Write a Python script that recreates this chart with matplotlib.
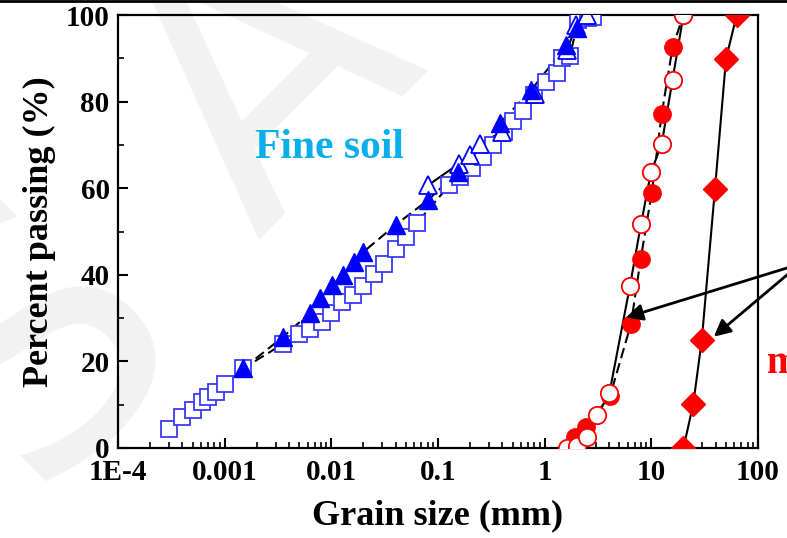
import matplotlib
matplotlib.use("Agg")
import matplotlib.pyplot as plt
from matplotlib.lines import Line2D
from matplotlib.ticker import FixedLocator, LogLocator, NullFormatter, FixedFormatter, MultipleLocator

# ---------------- data ----------------
# Fine soil
sq_x = [3.0e-4, 4.0e-4, 5.0e-4, 6.1e-4, 7.0e-4, 8.3e-4, 1.0e-3, 1.5e-3, 3.5e-3, 5.0e-3,
        6.3e-3, 8.2e-3, 0.010, 0.0125, 0.016, 0.020, 0.025, 0.031, 0.040, 0.050,
        0.063, 0.128, 0.161, 0.207, 0.262, 0.33, 0.42, 0.51, 0.63, 0.80,
        1.04, 1.30, 1.45, 1.72, 2.07, 2.57, 2.84]
sq_y = [4.5, 7.1, 8.8, 10.6, 11.8, 13.0, 14.7, 18.4, 24.0, 26.3,
        27.4, 29.2, 31.1, 33.8, 35.3, 37.4, 40.3, 42.4, 45.9, 48.7,
        51.9, 60.7, 62.5, 64.6, 67.3, 70.0, 73.0, 75.5, 77.8, 81.5,
        84.5, 86.5, 90.0, 90.5, 98.8, 99.3, 99.5]

ft_x = [1.5e-3, 3.5e-3, 6.3e-3, 7.9e-3, 0.0102, 0.0128, 0.0164, 0.020, 0.040, 0.081,
        0.155, 0.38, 0.75, 1.6, 2.0]
ft_y = [18.4, 25.6, 31.2, 34.6, 37.6, 40.0, 43.0, 45.3, 51.5, 57.3,
        63.8, 75.0, 82.7, 93.0, 97.0]

ot_x = [0.081, 0.158, 0.20, 0.246, 0.395, 0.81, 1.63, 1.98, 2.5]
ot_y = [60.7, 65.7, 67.7, 70.2, 73.0, 81.7, 92.0, 97.7, 100.0]

# Coarse soil
oc_x = [1.61, 2.02, 2.48, 3.12, 4.04, 6.3, 8.0, 9.93, 12.5, 15.8, 20.0]
oc_y = [0.0, 0.5, 2.5, 7.6, 12.6, 37.4, 51.7, 63.7, 70.2, 85.0, 100.0]

fc_x = [1.92, 2.44, 4.1, 6.44, 7.94, 10.1, 12.5, 15.8, 20.0]
fc_y = [2.5, 4.9, 12.0, 28.6, 43.6, 59.0, 77.1, 92.5, 100.0]

dm_x = [20.0, 24.7, 29.7, 39.5, 50.1, 63.1]
dm_y = [0.0, 10.1, 24.9, 59.8, 89.8, 100.0]

xtick_vals = [1e-4, 1e-3, 1e-2, 1e-1, 1, 10, 100]
xtick_labels = ["1E-4", "0.001", "0.01", "0.1", "1", "10", "100"]
ytick_vals = [0, 20, 40, 60, 80, 100]

# ---------------- style ----------------
plt.rcParams['font.family'] = ['Liberation Serif', 'DejaVu Serif']
plt.rcParams['font.weight'] = 'bold'

fig = plt.figure(figsize=(7.87, 5.38), dpi=100)
fig.patch.set_facecolor('white')

# faint watermark letters
wm_color = '#f2f2f2'
fig.text(273 / 787, 1 - 83 / 538, "A", rotation=45, fontsize=258,
         color=wm_color, ha='center', va='center', family='DejaVu Sans',
         weight='normal', zorder=0)
fig.text(40 / 787, 1 - 340 / 538, "S", rotation=45, fontsize=258,
         color=wm_color, ha='center', va='center', family='DejaVu Sans',
         weight='normal', zorder=0)
# top border line
fig.add_artist(Line2D([0, 1], [0.999, 0.999], transform=fig.transFigure,
                      color='black', lw=2))

ax = fig.add_axes([118 / 787, 1 - 448 / 538, 640 / 787, 433 / 538])
ax.set_zorder(1)
ax.patch.set_alpha(0)

blue_sq = '#3a3aff'
blue = '#0000ff'
red = '#ff0000'
dash = (5, 2.5)

# lines
ax.plot(sq_x, sq_y, color='black', lw=1.5, dashes=dash, zorder=2)
ax.plot(ft_x, ft_y, color='black', lw=1.5, dashes=dash, zorder=2)
ax.plot(ot_x, ot_y, color='black', lw=1.5, zorder=2)
ax.plot(oc_x, oc_y, color='black', lw=1.5, zorder=2)
ax.plot(fc_x, fc_y, color='black', lw=1.5, dashes=dash, zorder=2)
ax.plot(dm_x, dm_y, color='black', lw=1.5, zorder=2)

# markers
ax.plot(sq_x, sq_y, ls='none', marker='s', ms=11, mfc='white', mec=blue_sq, mew=1.3, zorder=3)
ax.plot(ot_x, ot_y, ls='none', marker='^', ms=13, mfc='white', mec=blue, mew=1.3, zorder=3)
ax.plot(ft_x, ft_y, ls='none', marker='^', ms=13, mfc=blue, mec=blue, mew=1.0, zorder=4)
ax.plot(fc_x, fc_y, ls='none', marker='o', ms=12.5, mfc=red, mec=red, mew=1.0, zorder=3)
ax.plot(oc_x, oc_y, ls='none', marker='o', ms=12.5, mfc='white', mec=red, mew=1.3, zorder=4)
ax.plot(dm_x, dm_y, ls='none', marker='D', ms=12, mfc=red, mec=red, mew=1.0, zorder=3)

ax.set_xscale('log')
ax.set_xlim(1e-4, 100)
ax.set_ylim(0, 100)

ax.xaxis.set_major_locator(FixedLocator(xtick_vals))
ax.xaxis.set_major_formatter(FixedFormatter(xtick_labels))
ax.xaxis.set_minor_locator(LogLocator(base=10, subs=range(2, 10), numticks=20))
ax.xaxis.set_minor_formatter(NullFormatter())
ax.yaxis.set_major_locator(FixedLocator(ytick_vals))
ax.yaxis.set_minor_locator(MultipleLocator(10))

ax.tick_params(which='major', direction='in', length=7, width=1.5, labelsize=21, pad=6)
ax.tick_params(which='minor', direction='in', length=4, width=1.2)
ax.tick_params(axis='x', which='major', pad=8)
ax.tick_params(top=False, right=False, which='both')
for lab in ax.get_xticklabels() + ax.get_yticklabels():
    lab.set_fontweight('bold')
for sp in ax.spines.values():
    sp.set_linewidth(1.6)

ax.set_xlabel("Grain size (mm)", fontsize=26, fontweight='bold')
ax.set_ylabel("Percent passing (%)", fontsize=26, fontweight='bold')
ax.xaxis.set_label_coords(0.5, -0.118)
ax.yaxis.set_label_coords(-0.097, 0.5)

ax.text(0.33, 0.693, "Fine soil", transform=ax.transAxes, fontsize=30,
        fontweight='bold', color='#0aaeea', ha='center', va='center')

# arrows
ax.annotate("", xy=(5.46, 29.95), xycoords='data',
            xytext=(800, 274), textcoords='figure pixels',
            arrowprops=dict(arrowstyle='-|>', color='black', lw=2, mutation_scale=25),
            annotation_clip=False)
ax.annotate("", xy=(36.8, 25.3), xycoords='data',
            xytext=(800, 274), textcoords='figure pixels',
            arrowprops=dict(arrowstyle='-|>', color='black', lw=2, mutation_scale=25),
            annotation_clip=False)

fig.text(767 / 787, 165 / 538, "m", fontsize=28, fontweight='bold', color=red,
         ha='left', va='baseline')

fig.savefig("out.png", dpi=100)
